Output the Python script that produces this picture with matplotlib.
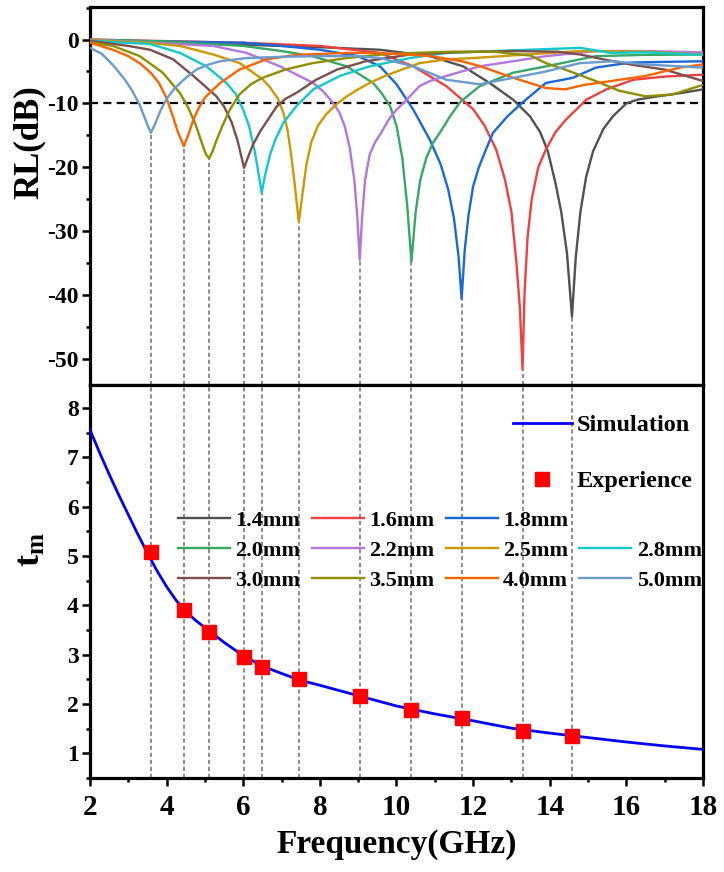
import numpy as np
import matplotlib
matplotlib.use('Agg')
import matplotlib.pyplot as plt
from matplotlib.lines import Line2D
from matplotlib.ticker import MultipleLocator

plt.rcParams['font.family'] = ['Liberation Serif', 'DejaVu Serif']
plt.rcParams['font.weight'] = 'bold'
plt.rcParams['mathtext.fontset'] = 'custom'
plt.rcParams['mathtext.rm'] = 'Liberation Serif:bold'
plt.rcParams['mathtext.it'] = 'Liberation Serif:bold'
plt.rcParams['mathtext.bf'] = 'Liberation Serif:bold'
plt.rcParams['axes.unicode_minus'] = False

# ---------------- data: reflection loss curves ----------------
f_14 = [2.0, 6.0, 8.0, 9.57, 10.87, 11.74, 12.43, 13.04, 13.48, 13.75, 13.95, 14.15, 14.3, 14.45, 14.58, 14.68, 14.8, 14.95, 15.13, 15.4, 15.65, 16.0, 16.3, 16.7, 17.4, 18.0]
rl_14 = [-0.3, -0.8, -1.2, -1.6, -2.6, -4.2, -6.8, -9.4, -12.0, -14.5, -17.5, -22.5, -27.0, -33.5, -43.4, -34.0, -27.0, -21.5, -17.5, -14.0, -12.0, -10.0, -9.4, -9.0, -8.4, -7.8]

f_16 = [2.0, 6.0, 8.0, 9.57, 10.44, 11.3, 12.0, 12.3, 12.6, 12.83, 13.0, 13.13, 13.22, 13.29, 13.34, 13.42, 13.53, 13.7, 13.9, 14.15, 14.43, 14.96, 15.48, 16.18, 17.0, 18.0]
rl_16 = [0.0, -0.5, -1.0, -2.1, -4.2, -7.3, -10.9, -13.5, -17.2, -21.9, -27.0, -35.0, -42.0, -51.7, -40.0, -31.0, -25.0, -20.0, -17.2, -14.5, -12.5, -9.4, -7.8, -6.3, -5.8, -5.5]

f_18 = [2.0, 6.0, 7.0, 8.0, 9.0, 9.57, 10.0, 10.44, 10.87, 11.15, 11.35, 11.5, 11.62, 11.70, 11.78, 11.88, 12.0, 12.15, 12.35, 12.52, 12.9, 13.3, 13.9, 14.6, 15.2, 16.1, 17.0, 18.0]
rl_18 = [-0.1, -0.5, -1.0, -1.6, -2.6, -4.2, -7.0, -11.0, -15.7, -19.5, -23.5, -28.0, -34.0, -40.6, -33.0, -27.5, -23.0, -20.0, -17.0, -14.6, -12.0, -9.8, -6.8, -6.0, -4.4, -3.6, -3.5, -3.4]

f_20 = [2.0, 4.0, 6.0, 7.0, 7.8, 8.7, 9.39, 9.6, 9.83, 10.0, 10.15, 10.28, 10.39, 10.5, 10.62, 10.78, 10.95, 11.13, 11.4, 11.66, 12.17, 13.04, 13.9, 15.2, 16.5, 18.0]
rl_20 = [0.0, -0.3, -1.0, -1.8, -2.6, -4.2, -6.8, -8.3, -10.4, -13.5, -18.5, -26.0, -34.8, -27.0, -22.0, -18.5, -16.2, -14.6, -12.0, -9.8, -7.3, -5.2, -4.2, -2.6, -2.4, -2.35]

f_22 = [2.0, 5.22, 6.09, 6.96, 7.83, 8.1, 8.3, 8.5, 8.65, 8.78, 8.9, 8.98, 9.04, 9.1, 9.18, 9.3, 9.45, 9.6, 9.8, 10.0, 10.27, 10.6, 10.87, 11.3, 12.17, 13.04, 13.9, 15.2, 16.5, 18.0]
rl_22 = [0.0, -1.0, -2.1, -4.2, -6.8, -8.2, -9.6, -11.3, -13.6, -17.0, -22.0, -28.0, -34.5, -28.0, -22.0, -18.0, -16.0, -14.6, -12.5, -11.0, -9.4, -7.3, -6.5, -5.7, -4.2, -3.4, -2.6, -1.8, -1.8, -2.0]

f_25 = [2.0, 3.5, 4.35, 5.22, 5.91, 6.52, 6.7, 6.9, 7.05, 7.15, 7.25, 7.35, 7.45, 7.55, 7.65, 7.78, 7.95, 8.15, 8.4, 8.7, 9.0, 9.3, 9.7, 10.1, 10.6, 11.3, 12.0, 13.5, 14.8, 16.5, 18.0]
rl_25 = [-0.1, -0.5, -1.0, -2.35, -3.7, -6.3, -7.5, -9.2, -11.5, -14.0, -18.0, -23.0, -28.6, -24.0, -19.5, -16.0, -13.5, -11.8, -10.3, -8.9, -7.8, -6.8, -5.7, -4.8, -3.7, -3.1, -2.9, -2.3, -1.8, -1.9, -2.35]

f_28 = [2.0, 3.57, 4.35, 5.04, 5.56, 5.8, 6.0, 6.15, 6.3, 6.4, 6.48, 6.56, 6.7, 6.85, 7.05, 7.39, 7.83, 8.52, 9.3, 10.35, 11.3, 13.0, 14.8, 15.6, 16.5, 18.0]
rl_28 = [-0.2, -0.7, -2.1, -4.2, -6.8, -8.5, -11.0, -13.5, -17.5, -21.0, -24.0, -21.5, -18.0, -15.5, -13.0, -10.4, -7.8, -5.7, -4.2, -2.9, -2.1, -1.7, -1.3, -2.1, -2.0, -2.4]

f_30 = [2.0, 3.0, 3.57, 4.17, 4.7, 5.3, 5.5, 5.7, 5.85, 5.95, 6.02, 6.1, 6.25, 6.45, 6.65, 6.87, 7.1, 7.4, 7.9, 8.45, 9.2, 10.35, 11.5, 13.0, 14.2, 14.8, 15.4, 16.2, 17.0, 18.0]
rl_30 = [-0.2, -1.0, -1.6, -3.1, -5.7, -8.9, -10.5, -13.0, -15.8, -18.3, -20.1, -18.8, -16.5, -14.3, -12.5, -10.5, -9.3, -8.3, -6.3, -4.7, -3.4, -2.35, -2.0, -1.8, -1.9, -2.35, -3.1, -4.0, -4.7, -6.5]

f_35 = [2.0, 2.6, 3.3, 3.9, 4.35, 4.55, 4.75, 4.92, 5.03, 5.11, 5.2, 5.3, 5.45, 5.65, 5.9, 6.2, 6.5, 7.1, 7.8, 8.7, 9.6, 10.4, 11.5, 12.5, 13.5, 13.9, 14.4, 15.2, 15.8, 16.5, 17.2, 18.0]
rl_35 = [-0.4, -1.0, -2.6, -5.2, -8.4, -10.5, -13.2, -16.2, -18.0, -18.6, -17.5, -15.8, -13.6, -11.0, -8.6, -7.0, -6.0, -4.7, -3.7, -2.9, -2.35, -2.1, -1.9, -1.9, -2.5, -3.7, -4.7, -6.5, -8.0, -8.9, -8.6, -7.1]

f_40 = [2.0, 2.6, 3.0, 3.3, 3.6, 3.8, 4.0, 4.15, 4.3, 4.4, 4.45, 4.55, 4.7, 4.85, 5.0, 5.2, 5.4, 5.9, 6.6, 7.4, 8.7, 9.6, 10.9, 11.7, 12.2, 13.0, 13.9, 14.4, 14.9, 15.6, 16.5, 17.4, 18.0]
rl_40 = [-0.5, -1.6, -2.6, -3.7, -5.3, -6.8, -9.2, -11.8, -14.6, -16.0, -16.7, -15.2, -12.5, -10.6, -9.1, -7.9, -6.8, -4.7, -3.1, -2.4, -2.1, -2.1, -2.6, -3.4, -4.2, -5.9, -7.6, -7.8, -7.1, -6.5, -5.7, -4.4, -3.9]

f_50 = [2.0, 2.3, 2.6, 2.9, 3.1, 3.3, 3.45, 3.53, 3.59, 3.7, 3.85, 4.0, 4.2, 4.5, 4.78, 5.1, 5.4, 6.09, 7.0, 8.0, 9.0, 9.57, 10.44, 11.3, 12.17, 13.04, 13.9, 14.78, 15.65, 16.5, 18.0]
rl_50 = [-1.3, -2.2, -4.0, -6.2, -8.0, -10.3, -12.6, -13.8, -14.6, -13.2, -11.0, -9.3, -7.7, -6.0, -4.7, -3.9, -3.4, -2.9, -2.7, -2.6, -2.6, -2.9, -4.2, -6.3, -7.0, -6.0, -5.0, -3.7, -3.4, -3.9, -4.4]

thickness_labels = ['1.4mm', '1.6mm', '1.8mm', '2.0mm', '2.2mm', '2.5mm',
                    '2.8mm', '3.0mm', '3.5mm', '4.0mm', '5.0mm']
curve_freqs = [f_14, f_16, f_18, f_20, f_22, f_25, f_28, f_30, f_35, f_40, f_50]
curve_rls = [rl_14, rl_16, rl_18, rl_20, rl_22, rl_25, rl_28, rl_30, rl_35, rl_40, rl_50]
colors = ['#515151', '#F0403F', '#1868DC', '#36A865', '#B177DE', '#CC9900',
          '#11C9CC', '#7D4E4E', '#8E8E00', '#FA6500', '#6A9BCF']

# ---------------- data: matching thickness ----------------
sim_f = [2.0, 2.25, 2.5, 2.75, 3.0, 3.25, 3.5, 3.75, 4.0, 4.25, 4.5, 4.75, 5.0, 5.5, 6.0, 6.5, 7.0, 7.5, 8.0, 9.0, 10.0, 11.0, 12.0, 13.0, 14.0, 15.0, 16.0, 17.0, 18.0]
sim_t = [7.56, 7.10, 6.66, 6.24, 5.84, 5.44, 5.06, 4.70, 4.38, 4.10, 3.88, 3.70, 3.55, 3.25, 2.98, 2.77, 2.62, 2.48, 2.38, 2.17, 1.96, 1.80, 1.66, 1.51, 1.41, 1.32, 1.23, 1.15, 1.08]
exp_t = [1.36, 1.46, 1.72, 1.87, 2.16, 2.50, 2.76, 2.96, 3.47, 3.91, 5.09]

# ---------------- figure ----------------
fig = plt.figure(figsize=(7.24, 8.72), dpi=100)
ax1 = fig.add_axes([0.1243, 0.5585, 0.8467, 0.4335])
ax2 = fig.add_axes([0.1243, 0.1078, 0.8467, 0.4507])

top_ylim = (-54.1, 5.1)
bot_ylim = (0.5, 8.47)

lines = []
min_f = []
min_rl = []
for f, rl, lab, c in zip(curve_freqs, curve_rls, thickness_labels, colors):
    ln, = ax1.plot(f, rl, color=c, lw=1.7, label=lab, zorder=3,
                   solid_joinstyle='round')
    lines.append(ln)
    i = int(np.argmin(rl))
    min_f.append(f[i])
    min_rl.append(rl[i])

ax1.axhline(-10, color='black', lw=1.6, dashes=(3.6, 2.4), zorder=2)
dotted = (0, (2.6, 1.8))
ax1.vlines(min_f, top_ylim[0], min_rl, colors='#737373', lw=1.15,
           linestyles=[dotted], zorder=1)
ax2.vlines(min_f, bot_ylim[0], bot_ylim[1], colors='#737373', lw=1.15,
           linestyles=[dotted], zorder=1)

sim_ln, = ax2.plot(sim_f, sim_t, color='#0000FF', lw=2.0, zorder=3,
                   label='Simulation', solid_joinstyle='round')
exp_pts, = ax2.plot(min_f, exp_t, linestyle='none', marker='s', ms=10,
                    color='#FF0000', mec='#FF0000', zorder=4, label='Experience')

for ax in (ax1, ax2):
    ax.set_xlim(2, 18)
    for s in ax.spines.values():
        s.set_linewidth(2.3)
    ax.tick_params(which='both', direction='out', top=False, right=False,
                   width=1.8)
    ax.tick_params(which='major', length=5.5)
    ax.tick_params(which='minor', length=3)

ax1.set_ylim(*top_ylim)
ax1.yaxis.set_major_locator(MultipleLocator(10))
ax1.yaxis.set_minor_locator(MultipleLocator(5))
ax1.tick_params(axis='x', which='both', bottom=False, labelbottom=False)
ax1.tick_params(axis='y', labelsize=17, pad=2.6)

ax2.set_ylim(*bot_ylim)
ax2.yaxis.set_major_locator(MultipleLocator(1))
ax2.yaxis.set_minor_locator(MultipleLocator(0.5))
ax2.xaxis.set_major_locator(MultipleLocator(2))
ax2.xaxis.set_minor_locator(MultipleLocator(1))
ax2.tick_params(axis='y', labelsize=17, pad=2.6)
ax2.tick_params(axis='x', labelsize=21, pad=6)

for lab in ax1.get_yticklabels() + ax2.get_yticklabels() + ax2.get_xticklabels():
    lab.set_fontweight('bold')

ax1.set_ylabel('RL(dB)', fontsize=25, fontweight='bold')
ax1.yaxis.set_label_coords(-0.073, 0.643)
ax2.set_ylabel(r'$\mathrm{t_m}$', fontsize=26)
ax2.yaxis.set_label_coords(-0.068, 0.58)
ax2.set_xlabel('Frequency(GHz)', fontsize=24, fontweight='bold', labelpad=6)

# thickness legend (3 rows x 4 cols, first row of last column empty)
blank = Line2D([], [], color='none', label=' ')
order = [0, 3, 7, 1, 4, 8, 2, 5, 9]
handles = [lines[i] for i in order] + [blank, lines[6], lines[10]]
leg2 = ax2.legend(handles=handles, labels=[h.get_label() for h in handles],
                  ncol=4, loc='upper left', bbox_to_anchor=(0.1436, 0.682),
                  frameon=False, handlelength=2.34,
                  handletextpad=0.25, columnspacing=0.5, labelspacing=0.43,
                  borderpad=0, borderaxespad=0,
                  prop={'weight': 'bold', 'size': 16})
ax2.add_artist(leg2)

leg1 = ax2.legend(handles=[sim_ln, exp_pts], loc='upper left',
                  bbox_to_anchor=(0.6896, 0.926), frameon=False,
                  handlelength=2.43, handletextpad=0.2, labelspacing=1.4,
                  borderpad=0, borderaxespad=0,
                  prop={'weight': 'bold', 'size': 17.5})

fig.savefig('out.png', dpi=100)
